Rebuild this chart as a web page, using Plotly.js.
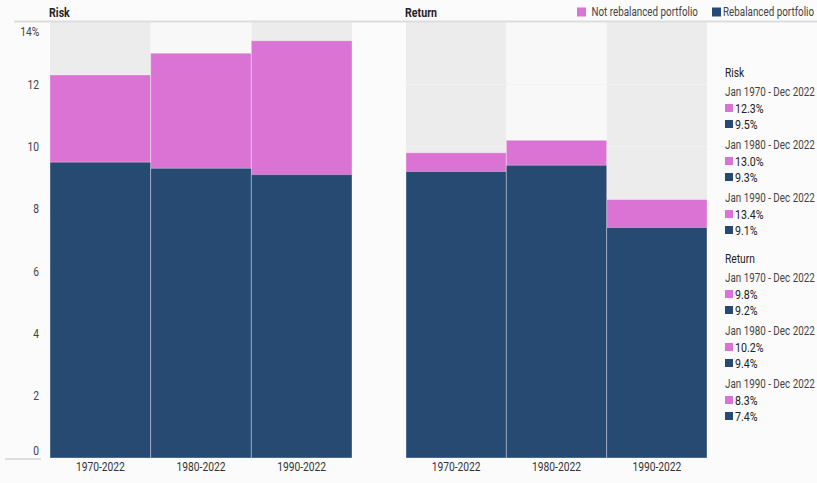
<!DOCTYPE html>
<html>
<head>
<meta charset="utf-8">
<script src="https://cdn.plot.ly/plotly-3.0.1.min.js"></script>
<style>html,body{margin:0;padding:0;background:#fbfbfb;}#chart{width:817px;height:483px;}</style>
</head>
<body>
<div id="chart"></div>
<script>
// ---- data ----
const categories = ['1970-2022', '1980-2022', '1990-2022'];
const periods = ['Jan 1970 - Dec 2022', 'Jan 1980 - Dec 2022', 'Jan 1990 - Dec 2022'];
const riskNotRebalanced = [12.3, 13.0, 13.4];
const riskRebalanced = [9.5, 9.3, 9.1];
const returnNotRebalanced = [9.8, 10.2, 8.3];
const returnRebalanced = [9.2, 9.4, 7.4];
const yTicks = [0, 2, 4, 6, 8, 10, 12, 14];
const yTickText = ['0', '2', '4', '6', '8', '10', '12', '14%'];
const seriesNames = ['Not rebalanced portfolio', 'Rebalanced portfolio'];
const panelTitles = ['Risk', 'Return'];

// ---- style ----
const PINK = '#da73d3';
const NAVY = '#264a72';
const FONT = 'Roboto, sans-serif';
const S = 0.82; // horizontal condensing of text
const W = 817, H = 483, L = 50, R = 110, T = 22, B = 25;
const PW = W - L - R, PH = H - T - B;
const px2x = p => (p - L) / PW;
const px2y = p => (H - B - p) / PH;

const barLine = {width: 1, color: 'rgba(255,255,255,0.35)'};
const traces = [
  {type: 'bar', name: seriesNames[0], x: categories, y: riskNotRebalanced, xaxis: 'x', yaxis: 'y',
   marker: {color: PINK, line: barLine}, width: 1},
  {type: 'bar', name: seriesNames[1], x: categories, y: riskRebalanced, xaxis: 'x', yaxis: 'y',
   marker: {color: NAVY, line: barLine}, width: 1},
  {type: 'bar', name: seriesNames[0], x: categories, y: returnNotRebalanced, xaxis: 'x2', yaxis: 'y',
   marker: {color: PINK, line: barLine}, width: 1},
  {type: 'bar', name: seriesNames[1], x: categories, y: returnRebalanced, xaxis: 'x2', yaxis: 'y',
   marker: {color: NAVY, line: barLine}, width: 1}
];

const shapes = [];
['x', 'x2'].forEach(xr => {
  [0, 2].forEach(i => {
    shapes.push({type: 'rect', xref: xr, yref: 'y', x0: i - 0.5, x1: i + 0.5, y0: 0, y1: 14,
      fillcolor: '#ececec', line: {width: 0}, layer: 'below'});
  });
  shapes.push({type: 'rect', xref: xr, yref: 'y', x0: 0.5, x1: 1.5, y0: 0, y1: 14,
    fillcolor: '#f8f8f8', line: {width: 0}, layer: 'below'});
});
// top rule & bottom rule under y labels
shapes.push({type: 'line', xref: 'paper', yref: 'paper', x0: px2x(14), x1: px2x(817), y0: px2y(21.5), y1: px2y(21.5),
  line: {color: '#dddddd', width: 2}, layer: 'above'});
shapes.push({type: 'line', xref: 'paper', yref: 'paper', x0: px2x(5), x1: px2x(41), y0: px2y(459), y1: px2y(459),
  line: {color: '#d4d4d4', width: 1.5}, layer: 'above'});

function keySquare(xpx, ypx, color, size) {
  shapes.push({type: 'rect', xref: 'paper', yref: 'paper',
    x0: px2x(xpx), x1: px2x(xpx + size), y0: px2y(ypx - size / 2), y1: px2y(ypx + size / 2),
    fillcolor: color, line: {width: 0}, layer: 'above'});
}

const annotations = [];
function txt(xpx, ypx, text, size, color, anchor, extra) {
  annotations.push(Object.assign({xref: 'paper', yref: 'paper', x: px2x(xpx), y: px2y(ypx), xanchor: anchor || 'left',
    yanchor: 'middle', text: text, showarrow: false, font: {family: FONT, size: size, color: color}}, extra || {}));
}
// y tick labels
yTicks.forEach((v, i) => {
  let shift = 0;
  if (v === 0) shift = 8;
  if (v === 14) shift = -9;
  annotations.push({xref: 'paper', yref: 'y', x: px2x(41), y: v, xanchor: 'right', yanchor: 'middle',
    text: yTickText[i], showarrow: false, yshift: shift, font: {family: FONT, size: 12.5, color: '#444'}});
});
// panel titles
txt(47, 13, '<b>' + panelTitles[0] + '</b>', 13, '#222');
txt(403, 13, '<b>' + panelTitles[1] + '</b>', 13, '#222');
// legend (top right)
keySquare(577, 12, PINK, 9);
txt(700, 12, seriesNames[0], 12, '#444', 'right');
keySquare(712, 12, NAVY, 9);
txt(816, 12, seriesNames[1], 12, '#444', 'right');
// side panel
const groups = [[panelTitles[0], riskNotRebalanced, riskRebalanced, 72], [panelTitles[1], returnNotRebalanced, returnRebalanced, 258]];
groups.forEach(([title, a, b, y0]) => {
  txt(723, y0, title, 12.5, '#222');
  periods.forEach((p, i) => {
    const yy = y0 + 20 + i * 53;
    txt(723, yy, p, 12, '#444');
    keySquare(725, yy + 16, PINK, 8);
    txt(733, yy + 16, a[i].toFixed(1) + '%', 13, '#222');
    keySquare(725, yy + 32, NAVY, 8);
    txt(733, yy + 32, b[i].toFixed(1) + '%', 13, '#222');
  });
});

const xCommon = {type: 'category', showgrid: false, zeroline: false, showline: false, ticks: '',
  tickfont: {family: FONT, size: 12.5, color: '#333'}, range: [-0.5, 2.5], fixedrange: true};

const layout = {
  width: W, height: H,
  margin: {l: L, r: R, t: T, b: B, pad: 0},
  paper_bgcolor: '#fbfbfb', plot_bgcolor: '#fbfbfb',
  barmode: 'overlay', bargap: 0,
  font: {family: FONT, color: '#333'},
  xaxis: Object.assign({domain: [0, px2x(352)]}, xCommon),
  xaxis2: Object.assign({domain: [px2x(406), 1], anchor: 'y'}, xCommon),
  yaxis: {range: [0, 14], tickvals: yTicks, showticklabels: false, showgrid: true, gridcolor: '#f2f2f2',
    gridwidth: 1.5, zeroline: false, showline: false, ticks: '', fixedrange: true},
  showlegend: false,
  shapes: shapes,
  annotations: annotations
};

function condense(t, mode) {
  const bb = t.getBBox();
  const ax = mode === 'left' ? bb.x : mode === 'right' ? bb.x + bb.width : bb.x + bb.width / 2;
  const prev = t.getAttribute('transform') || '';
  t.setAttribute('transform', prev + ' translate(' + ax + ',0) scale(' + S + ',1) translate(' + (-ax) + ',0)');
}

Plotly.newPlot('chart', traces, layout, {displayModeBar: false, staticPlot: true}).then(gd => {
  gd.querySelectorAll('g.annotation').forEach(g => {
    const idx = +g.getAttribute('data-index');
    const t = g.querySelector('text');
    if (t) condense(t, annotations[idx].xanchor);
  });
  gd.querySelectorAll('g.xtick text, g.x2tick text').forEach(t => condense(t, 'center'));
});
</script>
</body>
</html>
